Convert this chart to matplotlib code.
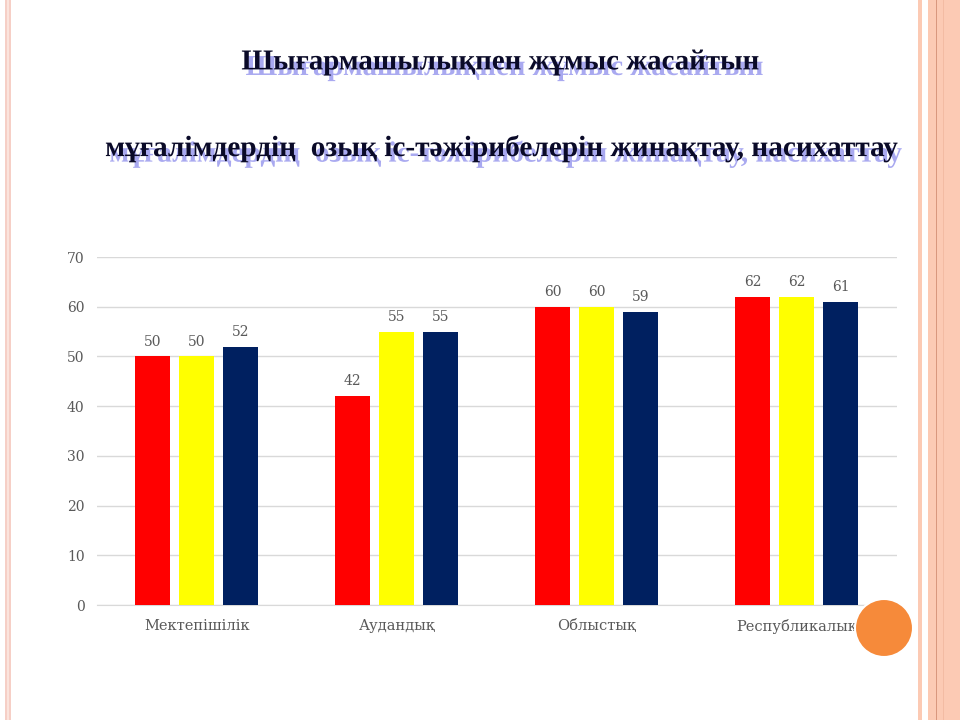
import matplotlib.pyplot as plt
import matplotlib.patches as patches
import matplotlib.patheffects as pe
import numpy as np

# --- Data ---
categories = ["Мектепішілік", "Аудандық", "Облыстық", "Республикалық"]
series_a = [50, 42, 60, 62]
series_b = [50, 55, 60, 62]
series_c = [52, 55, 59, 61]
series_colors = ["#FF0000", "#FFFF00", "#002060"]

title_1 = "Шығармашылықпен жұмыс жасайтын"
title_2 = "мұғалімдердің  озық іс-тәжірибелерін жинақтау, насихаттау"

fig = plt.figure(figsize=(9.6, 7.2), dpi=100)
fig.patch.set_facecolor("white")

# --- Slide decoration (borders) ---
deco = fig.add_axes([0, 0, 1, 1], zorder=-5)
deco.set_xlim(0, 960)
deco.set_ylim(720, 0)
deco.axis("off")
deco.add_patch(patches.Rectangle((5, 0), 6, 720, color="#F6CFC6", lw=0))
deco.add_patch(patches.Rectangle((7, 0), 2, 720, color="#FBE4DD", lw=0))
deco.add_patch(patches.Rectangle((918, 0), 4, 720, color="#FCCAB4", lw=0))
deco.add_patch(patches.Rectangle((928, 0), 32, 720, color="#FCCAB4", lw=0))
deco.add_patch(patches.Rectangle((935.5, 0), 1.2, 720, color="#D9977E", lw=0))
deco.add_patch(patches.Rectangle((942.5, 0), 1.0, 720, color="#F3BBA3", lw=0))

# --- Title (WordArt-like with lavender shadow) ---
shadow = [pe.withSimplePatchShadow(offset=(3, -4), shadow_rgbFace="#A9A9F0",
                                   alpha=1.0)]
fig.text(0.521, 0.914, title_1, ha="center", va="center", fontsize=20.8,
         family="Liberation Serif", fontweight="bold", color="#0A0A28",
         path_effects=shadow)
fig.text(0.522, 0.794, title_2, ha="center", va="center", fontsize=21.1,
         family="Liberation Serif", fontweight="bold", color="#0A0A28",
         path_effects=shadow)

# --- Chart ---
ax = fig.add_axes([0.101, 0.1597, 0.833, 0.4833])
x = np.arange(len(categories))
width = 0.175
offsets = [-0.22, 0.0, 0.22]

for vals, off, col in zip([series_a, series_b, series_c], offsets, series_colors):
    bars = ax.bar(x + off, vals, width, color=col, zorder=3)
    for bar, v in zip(bars, vals):
        ax.text(bar.get_x() + bar.get_width() / 2, v + 1.6, f"{v}",
                ha="center", va="bottom", fontsize=10, family="DejaVu Serif",
                color="#595959")

ax.set_xlim(-0.5, len(categories) - 0.5)
ax.set_ylim(0, 70)
ax.set_yticks(range(0, 71, 10))
ax.set_xticks(x)
ax.set_xticklabels(categories)
ax.grid(axis="y", color="#D9D9D9", lw=1, zorder=0)
for s in ax.spines.values():
    s.set_visible(False)
ax.spines["bottom"].set_visible(True)
ax.spines["bottom"].set_color("#D9D9D9")
ax.tick_params(axis="y", length=0, colors="#595959", labelsize=10, pad=9)
ax.tick_params(axis="x", length=0, colors="#595959", labelsize=10.5, pad=10)
for lbl in ax.get_xticklabels() + ax.get_yticklabels():
    lbl.set_family("DejaVu Serif")
ax.patch.set_alpha(0)

# --- Orange circle over the axis corner ---
top = fig.add_axes([0, 0, 1, 1], zorder=10)
top.set_xlim(0, 960)
top.set_ylim(720, 0)
top.axis("off")
top.add_patch(patches.Circle((884, 628), 29, facecolor="#F68A3A",
                             edgecolor="white", lw=1.5))

fig.savefig("out.png", dpi=100)
